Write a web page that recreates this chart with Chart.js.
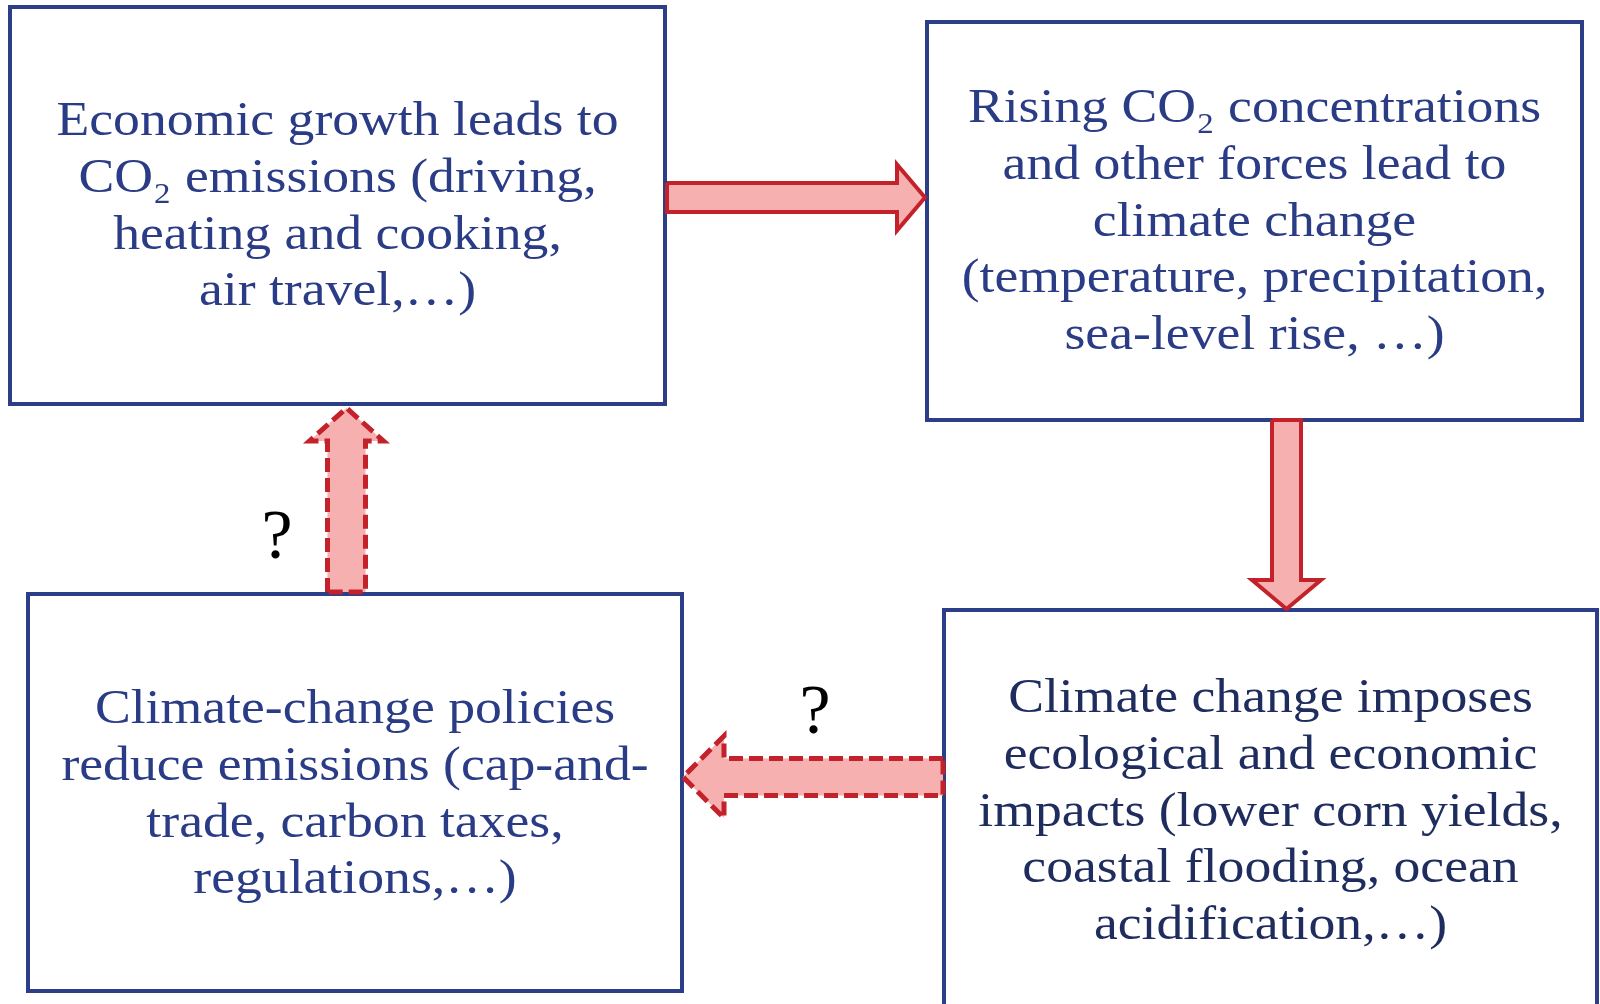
<!DOCTYPE html>
<html lang="en">
<head>
    <meta charset="UTF-8">
    <title>Economic growth and climate change loop</title>
    <script src="https://cdn.jsdelivr.net/npm/chart.js"></script>
    <style>
        html, body { margin: 0; padding: 0; background: #ffffff; }
        #diagram { display: block; }
    </style>
</head>
<body>
    <canvas id="diagram" width="1600" height="1004"></canvas>

    <script>
        // boxes: top-left, top-right, bottom-right, bottom-left
        const boxLeft = [10, 927, 944, 28];
        const boxRight = [665, 1582, 1597, 682];
        const boxTop = [7, 22, 610, 594];
        const boxBottom = [404, 420, 1020, 991];
        const boxLines = [
            ['Economic growth leads to', 'CO₂ emissions (driving,', 'heating and cooking,', 'air travel,…)'],
            ['Rising CO₂ concentrations', 'and other forces lead to', 'climate change', '(temperature, precipitation,', 'sea-level rise, …)'],
            ['Climate change imposes', 'ecological and economic', 'impacts (lower corn yields,', 'coastal flooding, ocean', 'acidification,…)'],
            ['Climate-change policies', 'reduce emissions (cap-and-', 'trade, carbon taxes,', 'regulations,…)']
        ];
        const firstBaseline = [135, 122, 712, 723];
        const lineStep = 56.8;

        // arrows: right, down, up (dashed), left (dashed)
        const arrowDir = ['h', 'v', 'v', 'h'];
        const arrowTail = [667, 420, 592, 943];
        const arrowTip = [925, 609, 408, 683];
        const arrowAxis = [197.5, 1286.5, 346.5, 777];
        const arrowShaft = [29, 29, 38, 37];
        const arrowHead = [66, 69, 74, 82];
        const arrowHeadLen = [28, 29, 33, 41];
        const arrowDashed = [false, false, true, true];

        // question marks next to the uncertain links
        const qmarkText = ['?', '?'];
        const qmarkX = [277, 815];
        const qmarkY = [558, 733];

        const navy = '#2c3e88';
        const textNavy = ['#2b3c86', '#2b3c86', '#1e2c5e', '#2b3c86'];

        function boxPoints(i) {
            return [
                {x: boxLeft[i], y: boxTop[i]},
                {x: boxRight[i], y: boxTop[i]},
                {x: boxRight[i], y: boxBottom[i]},
                {x: boxLeft[i], y: boxBottom[i]},
                {x: boxLeft[i], y: boxTop[i]}
            ];
        }

        function arrowPoints(i) {
            const t = arrowTail[i], p = arrowTip[i], c = arrowAxis[i];
            const s = arrowShaft[i] / 2, h = arrowHead[i] / 2;
            const sign = p > t ? 1 : -1;
            const b = p - sign * arrowHeadLen[i];
            // along-axis / cross-axis pairs
            const pts = [[t, c - s], [b, c - s], [b, c - h], [p, c], [b, c + h], [b, c + s], [t, c + s], [t, c - s]];
            return pts.map(([a, q]) => arrowDir[i] === 'h' ? {x: a, y: q} : {x: q, y: a});
        }

        const datasets = [];
        arrowTail.forEach((_, i) => {
            datasets.push({
                data: arrowPoints(i),
                showLine: true,
                fill: 'shape',
                backgroundColor: '#f6b0b0',
                borderColor: '#c4222b',
                borderWidth: arrowDashed[i] ? 5 : 4,
                borderDash: arrowDashed[i] ? [14, 6] : [],
                borderJoinStyle: 'miter',
                pointRadius: 0,
                tension: 0,
                order: 0
            });
        });
        boxLeft.forEach((_, i) => {
            datasets.push({
                data: boxPoints(i),
                showLine: true,
                fill: false,
                borderColor: navy,
                borderWidth: 4,
                borderJoinStyle: 'miter',
                borderCapStyle: 'square',
                pointRadius: 0,
                tension: 0,
                order: 1
            });
        });

        const mainFont = '49px "Liberation Serif", serif';
        const subFont = '30px "Liberation Serif", serif';

        function lineWidth(ctx, line) {
            const parts = line.split('₂');
            let w = 0;
            parts.forEach((part, k) => {
                ctx.font = mainFont;
                w += ctx.measureText(part).width;
                if (k < parts.length - 1) {
                    ctx.font = subFont;
                    w += ctx.measureText('2').width + 2;
                }
            });
            return w;
        }

        const textPlugin = {
            id: 'boxText',
            afterDatasetsDraw(chart) {
                const ctx = chart.ctx;
                const xs = chart.scales.x, ys = chart.scales.y;
                ctx.save();
                // stretch Times-like glyphs toward the wider Palatino look
                const stretch = 562 / lineWidth(ctx, boxLines[0][0]);
                ctx.textBaseline = 'alphabetic';
                ctx.textAlign = 'left';
                boxLines.forEach((lines, i) => {
                    const cx = xs.getPixelForValue((boxLeft[i] + boxRight[i]) / 2);
                    ctx.fillStyle = textNavy[i];
                    lines.forEach((line, j) => {
                        const by = ys.getPixelForValue(firstBaseline[i] + j * lineStep);
                        const w = lineWidth(ctx, line);
                        ctx.save();
                        ctx.translate(cx, by);
                        ctx.scale(stretch, 1);
                        let x = -w / 2;
                        const parts = line.split('₂');
                        parts.forEach((part, k) => {
                            ctx.font = mainFont;
                            ctx.fillText(part, x, 0);
                            x += ctx.measureText(part).width;
                            if (k < parts.length - 1) {
                                ctx.font = subFont;
                                ctx.fillText('2', x + 1, 11);
                                x += ctx.measureText('2').width + 2;
                            }
                        });
                        ctx.restore();
                    });
                });
                ctx.fillStyle = '#000000';
                ctx.font = '70px "Liberation Serif", serif';
                ctx.textAlign = 'center';
                qmarkText.forEach((q, i) => {
                    ctx.fillText(q, xs.getPixelForValue(qmarkX[i]), ys.getPixelForValue(qmarkY[i]));
                });
                ctx.restore();
            }
        };

        const chart = new Chart(document.getElementById('diagram').getContext('2d'), {
            type: 'scatter',
            data: { datasets: datasets },
            options: {
                responsive: false,
                animation: false,
                devicePixelRatio: 1,
                layout: { padding: 0 },
                plugins: {
                    legend: { display: false },
                    tooltip: { enabled: false }
                },
                scales: {
                    x: { type: 'linear', min: 0, max: 1600, display: false },
                    y: { type: 'linear', min: 0, max: 1004, reverse: true, display: false }
                }
            },
            plugins: [textPlugin]
        });
    </script>
</body>
</html>
